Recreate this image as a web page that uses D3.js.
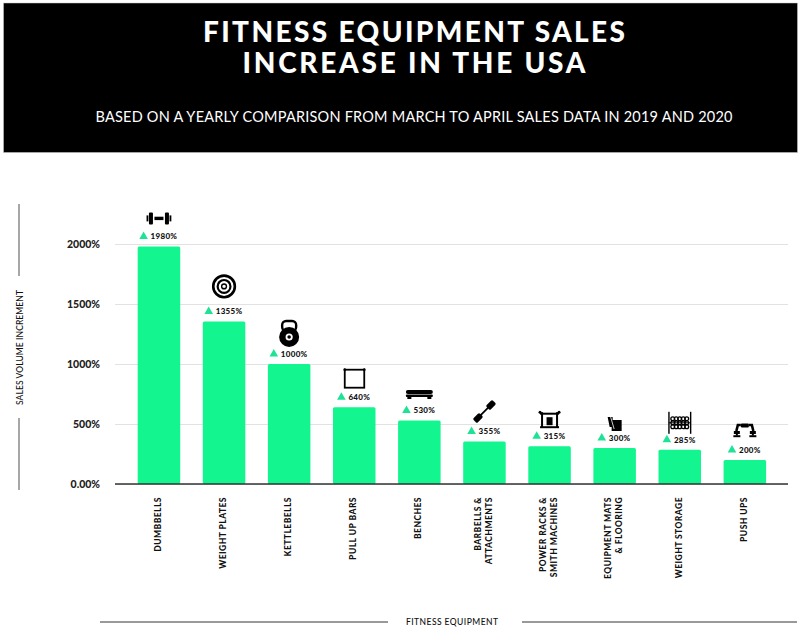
<!DOCTYPE html>
<html>
<head>
<meta charset="utf-8">
<script src="https://cdn.jsdelivr.net/npm/d3@7"></script>
<style>
  html, body { margin: 0; padding: 0; background: #fff; }
  svg { display: block; }
  text { font-family: Lato, "Open Sans", sans-serif; fill: #111; }
</style>
</head>
<body>
<svg id="chart" width="801" height="631"></svg>
<script>
const categories = ["Dumbbells", "Weight Plates", "Kettlebells", "Pull Up Bars", "Benches",
    "Barbells & Attachments", "Power Racks & Smith Machines", "Equipment Mats & Flooring",
    "Weight Storage", "Push Ups"];
const categoryLines = [["DUMBBELLS"], ["WEIGHT PLATES"], ["KETTLEBELLS"], ["PULL UP BARS"], ["BENCHES"],
    ["BARBELLS &", "ATTACHMENTS"], ["POWER RACKS &", "SMITH MACHINES"], ["EQUIPMENT MATS", "& FLOORING"],
    ["WEIGHT STORAGE"], ["PUSH UPS"]];
const salesIncrease = [1980, 1355, 1000, 640, 530, 355, 315, 300, 285, 200];
const yTicks = [0, 500, 1000, 1500, 2000];
const yTickLabels = ["0.00%", "500%", "1000%", "1500%", "2000%"];

const svg = d3.select("#chart");
const GREEN = "#12f58f";

// Header
svg.append("rect").attr("x", 3.5).attr("y", 3).attr("width", 794).attr("height", 149.5)
    .attr("fill", "#000").attr("stroke", "#ccc").attr("stroke-width", 0.5);

function header(str, y, size, len, weight) {
    svg.append("text").attr("x", 414).attr("y", y)
        .attr("text-anchor", "middle")
        .attr("textLength", len).attr("lengthAdjust", "spacing")
        .style("font-size", size + "px").style("font-weight", weight).style("fill", "#fff")
        .text(str);
}
header("FITNESS EQUIPMENT SALES", 42, 28, 422, 900);
header("INCREASE IN THE USA", 73, 28, 343, 900);
header("BASED ON A YEARLY COMPARISON FROM MARCH TO APRIL SALES DATA IN 2019 AND 2020", 122, 14.5, 637, 400);

// Scales
const x = d3.scaleBand().domain(categories).range([126.4, 777.4]).paddingInner(0.347).paddingOuter(0.1735);
const y = d3.scaleLinear().domain([0, 2000]).range([484, 244]);

// Y axis and grid
const yAxis = d3.axisLeft(y).tickValues(yTicks).tickSize(673).tickPadding(0)
    .tickFormat((d, i) => yTickLabels[i]);
const yG = svg.append("g").attr("transform", "translate(788,0)").call(yAxis);
yG.select(".domain").remove();
yG.selectAll(".tick line").attr("stroke", "#e2e2e2").attr("stroke-width", 1);
yG.selectAll(".tick text")
    .attr("x", -688)
    .attr("dy", "0.32em")
    .style("font-size", "10.5px").style("font-weight", 900).style("fill", "#222");

// Bars
svg.append("g").selectAll("rect")
    .data(categories)
    .join("rect")
    .attr("x", d => x(d))
    .attr("width", x.bandwidth())
    .attr("y", (d, i) => y(salesIncrease[i]))
    .attr("height", (d, i) => y(0) - y(salesIncrease[i]))
    .attr("rx", 1.5)
    .attr("fill", GREEN);

// X axis line
svg.append("line").attr("x1", 115).attr("x2", 788).attr("y1", 484).attr("y2", 484)
    .attr("stroke", "#333").attr("stroke-width", 1.5);

// Value labels with the little triangles
const labels = svg.append("g").selectAll("g")
    .data(categories)
    .join("g")
    .attr("transform", (d, i) => `translate(${x(d) + x.bandwidth() / 2},${y(salesIncrease[i]) - 10})`);
labels.append("text")
    .attr("x", 5).attr("dy", "0.35em")
    .attr("text-anchor", "middle")
    .style("font-size", "8px").style("font-weight", 900).style("letter-spacing", "0.3px")
    .text((d, i) => salesIncrease[i] + "%");
labels.append("path")
    .attr("d", d3.symbol(d3.symbolTriangle, 32))
    .attr("fill", "#1fe296")
    .attr("transform", function () {
        const w = this.parentNode.querySelector("text").getComputedTextLength();
        return `translate(${5 - w / 2 - 7},0)`;
    });

// Icons, drawn around (0,0). Each sits a fixed distance above its bar.
function box(g, bx, by, w, h, rx) {
    return g.append("rect").attr("x", bx).attr("y", by).attr("width", w).attr("height", h).attr("rx", rx || 0);
}
function ring(g, cx, cy, r, sw) {
    return g.append("circle").attr("cx", cx).attr("cy", cy).attr("r", r)
        .attr("fill", "none").attr("stroke", "#000").attr("stroke-width", sw);
}
function stroke(g, d, sw) {
    return g.append("path").attr("d", d).attr("fill", "none").attr("stroke", "#000").attr("stroke-width", sw);
}
const icons = [
    { gap: 28, draw(g) {
        [-1, 1].forEach(s => {
            box(g, s * 11.5 - 0.9, -3, 1.8, 6);
            box(g, s * 8 - 2, -6, 4, 12, 1);
        });
        box(g, -4.5, -1.7, 9, 3.4);
    } },
    { gap: 35, draw(g) {
        ring(g, 0, 0, 10.8, 2.6);
        ring(g, 0, 0, 6.4, 2.2);
        ring(g, 0, 0, 2.4, 1.4);
    } },
    { gap: 31, draw(g) {
        g.append("circle").attr("cy", 4).attr("r", 10);
        g.append("rect").attr("x", -7).attr("y", -12).attr("width", 14).attr("height", 10).attr("rx", 4)
            .attr("fill", "none").attr("stroke", "#000").attr("stroke-width", 2.4);
        g.append("circle").attr("cy", 4).attr("r", 3.6).attr("fill", "#fff");
        g.append("circle").attr("cy", 4).attr("r", 1.8);
    } },
    { gap: 29, draw(g) {
        g.append("rect").attr("x", -9.5).attr("y", -8.5).attr("width", 19.5).attr("height", 18)
            .attr("fill", "none").attr("stroke", "#000").attr("stroke-width", 1.8);
        [-9.5, 10].forEach(px => box(g, px - 1.2, -10, 2.4, 3, 1));
    } },
    { gap: 26, draw(g) {
        box(g, -13.5, -4.5, 27, 4, 2);
        box(g, -13.5, 0.2, 27, 2.4, 1);
        box(g, -12, 2, 4, 2.6);
        box(g, 8, 2, 4, 2.6);
    } },
    { gap: 30, draw(g) {
        g.append("line").attr("x1", -7).attr("y1", 7).attr("x2", 7).attr("y2", -7)
            .attr("stroke", "#000").attr("stroke-width", 1.8);
        [[-6.5, 6.5], [6.5, -6.5]].forEach(([cx, cy]) => {
            box(g, -4.5, -3, 9, 6, 1.5).attr("transform", `translate(${cx},${cy}) rotate(-45)`);
        });
    } },
    { gap: 27, draw(g) {
        box(g, -8.5, -7, 2, 15);
        box(g, 6.5, -7, 2, 15);
        box(g, -9.5, -6.5, 19, 2);
        box(g, -9.5, 7, 19, 2);
        box(g, -3, -2, 6, 8);
        [-9.5, 9.5].forEach(px => g.append("circle").attr("cx", px).attr("cy", -7).attr("r", 1.5));
    } },
    { gap: 24, draw(g) {
        g.append("path").attr("d", "M-7,-7L-2,-7L-2,-4L7,-4L7,7L-3,7L-3,3L-5,3Z");
        g.append("line").attr("x1", -4).attr("y1", -7).attr("x2", -0.5).attr("y2", 5)
            .attr("stroke", "#fff").attr("stroke-width", 0.8);
    } },
    { gap: 27, draw(g) {
        box(g, -11.5, -11, 1.4, 22);
        box(g, 10.2, -11, 1.4, 22);
        box(g, -11, -0.5, 22, 1);
        [-4, 0, 4].forEach(cy => {
            [-7, -3.5, 0, 3.5, 7].forEach(cx => ring(g, cx, cy, 1.9, 1.3));
        });
    } },
    { gap: 29, draw(g) {
        box(g, -4, -7.5, 8, 4, 1);
        stroke(g, "M-4,-6L-7,-6L-8.5,0", 2.6);
        stroke(g, "M4,-6L7,-6L8.5,0", 2.6);
        [-8, 8].forEach(cx => {
            box(g, cx - 3, 0, 6, 3);
            box(g, cx - 3.5, 4.2, 7, 2);
            box(g, cx - 1, 2, 2, 2.5);
        });
    } }
];
svg.append("g").selectAll("g")
    .data(categories)
    .join("g")
    .attr("transform", (d, i) => `translate(${x(d) + x.bandwidth() / 2},${y(salesIncrease[i]) - icons[i].gap})`)
    .each(function (d, i) { icons[i].draw(d3.select(this)); });

// Category labels, rotated, reading upward from below the axis
const catLabels = svg.append("g").selectAll("g")
    .data(categories)
    .join("g")
    .attr("transform", d => `translate(${x(d) + x.bandwidth() / 2 - 1},497) rotate(-90)`);
catLabels.each(function (d, i) {
    const lines = categoryLines[i];
    d3.select(this).selectAll("text")
        .data(lines)
        .join("text")
        .attr("text-anchor", "end")
        .attr("y", (l, j) => (j - (lines.length - 1) / 2) * 11.5)
        .attr("dy", "0.35em")
        .style("font-size", "8.5px").style("font-weight", 900).style("letter-spacing", "0.45px")
        .text(l => l);
});

// Axis titles with their side rules
const rule = "#777";
[[19, 204, 19, 276], [19, 418, 19, 490], [100, 622, 388, 622], [522, 622, 797, 622]].forEach(([a, b, c, e]) => {
    svg.append("line").attr("x1", a).attr("y1", b).attr("x2", c).attr("y2", e)
        .attr("stroke", rule).attr("stroke-width", 1.3);
});
svg.append("text")
    .attr("transform", "translate(20,347.5) rotate(-90)")
    .attr("text-anchor", "middle").attr("dy", "0.35em")
    .attr("textLength", 115)
    .style("font-size", "8.5px").style("font-weight", 500)
    .text("SALES VOLUME INCREMENT");
svg.append("text")
    .attr("x", 452).attr("y", 622)
    .attr("text-anchor", "middle").attr("dy", "0.35em")
    .attr("textLength", 92)
    .style("font-size", "8.5px").style("font-weight", 500)
    .text("FITNESS EQUIPMENT");
</script>
</body>
</html>
